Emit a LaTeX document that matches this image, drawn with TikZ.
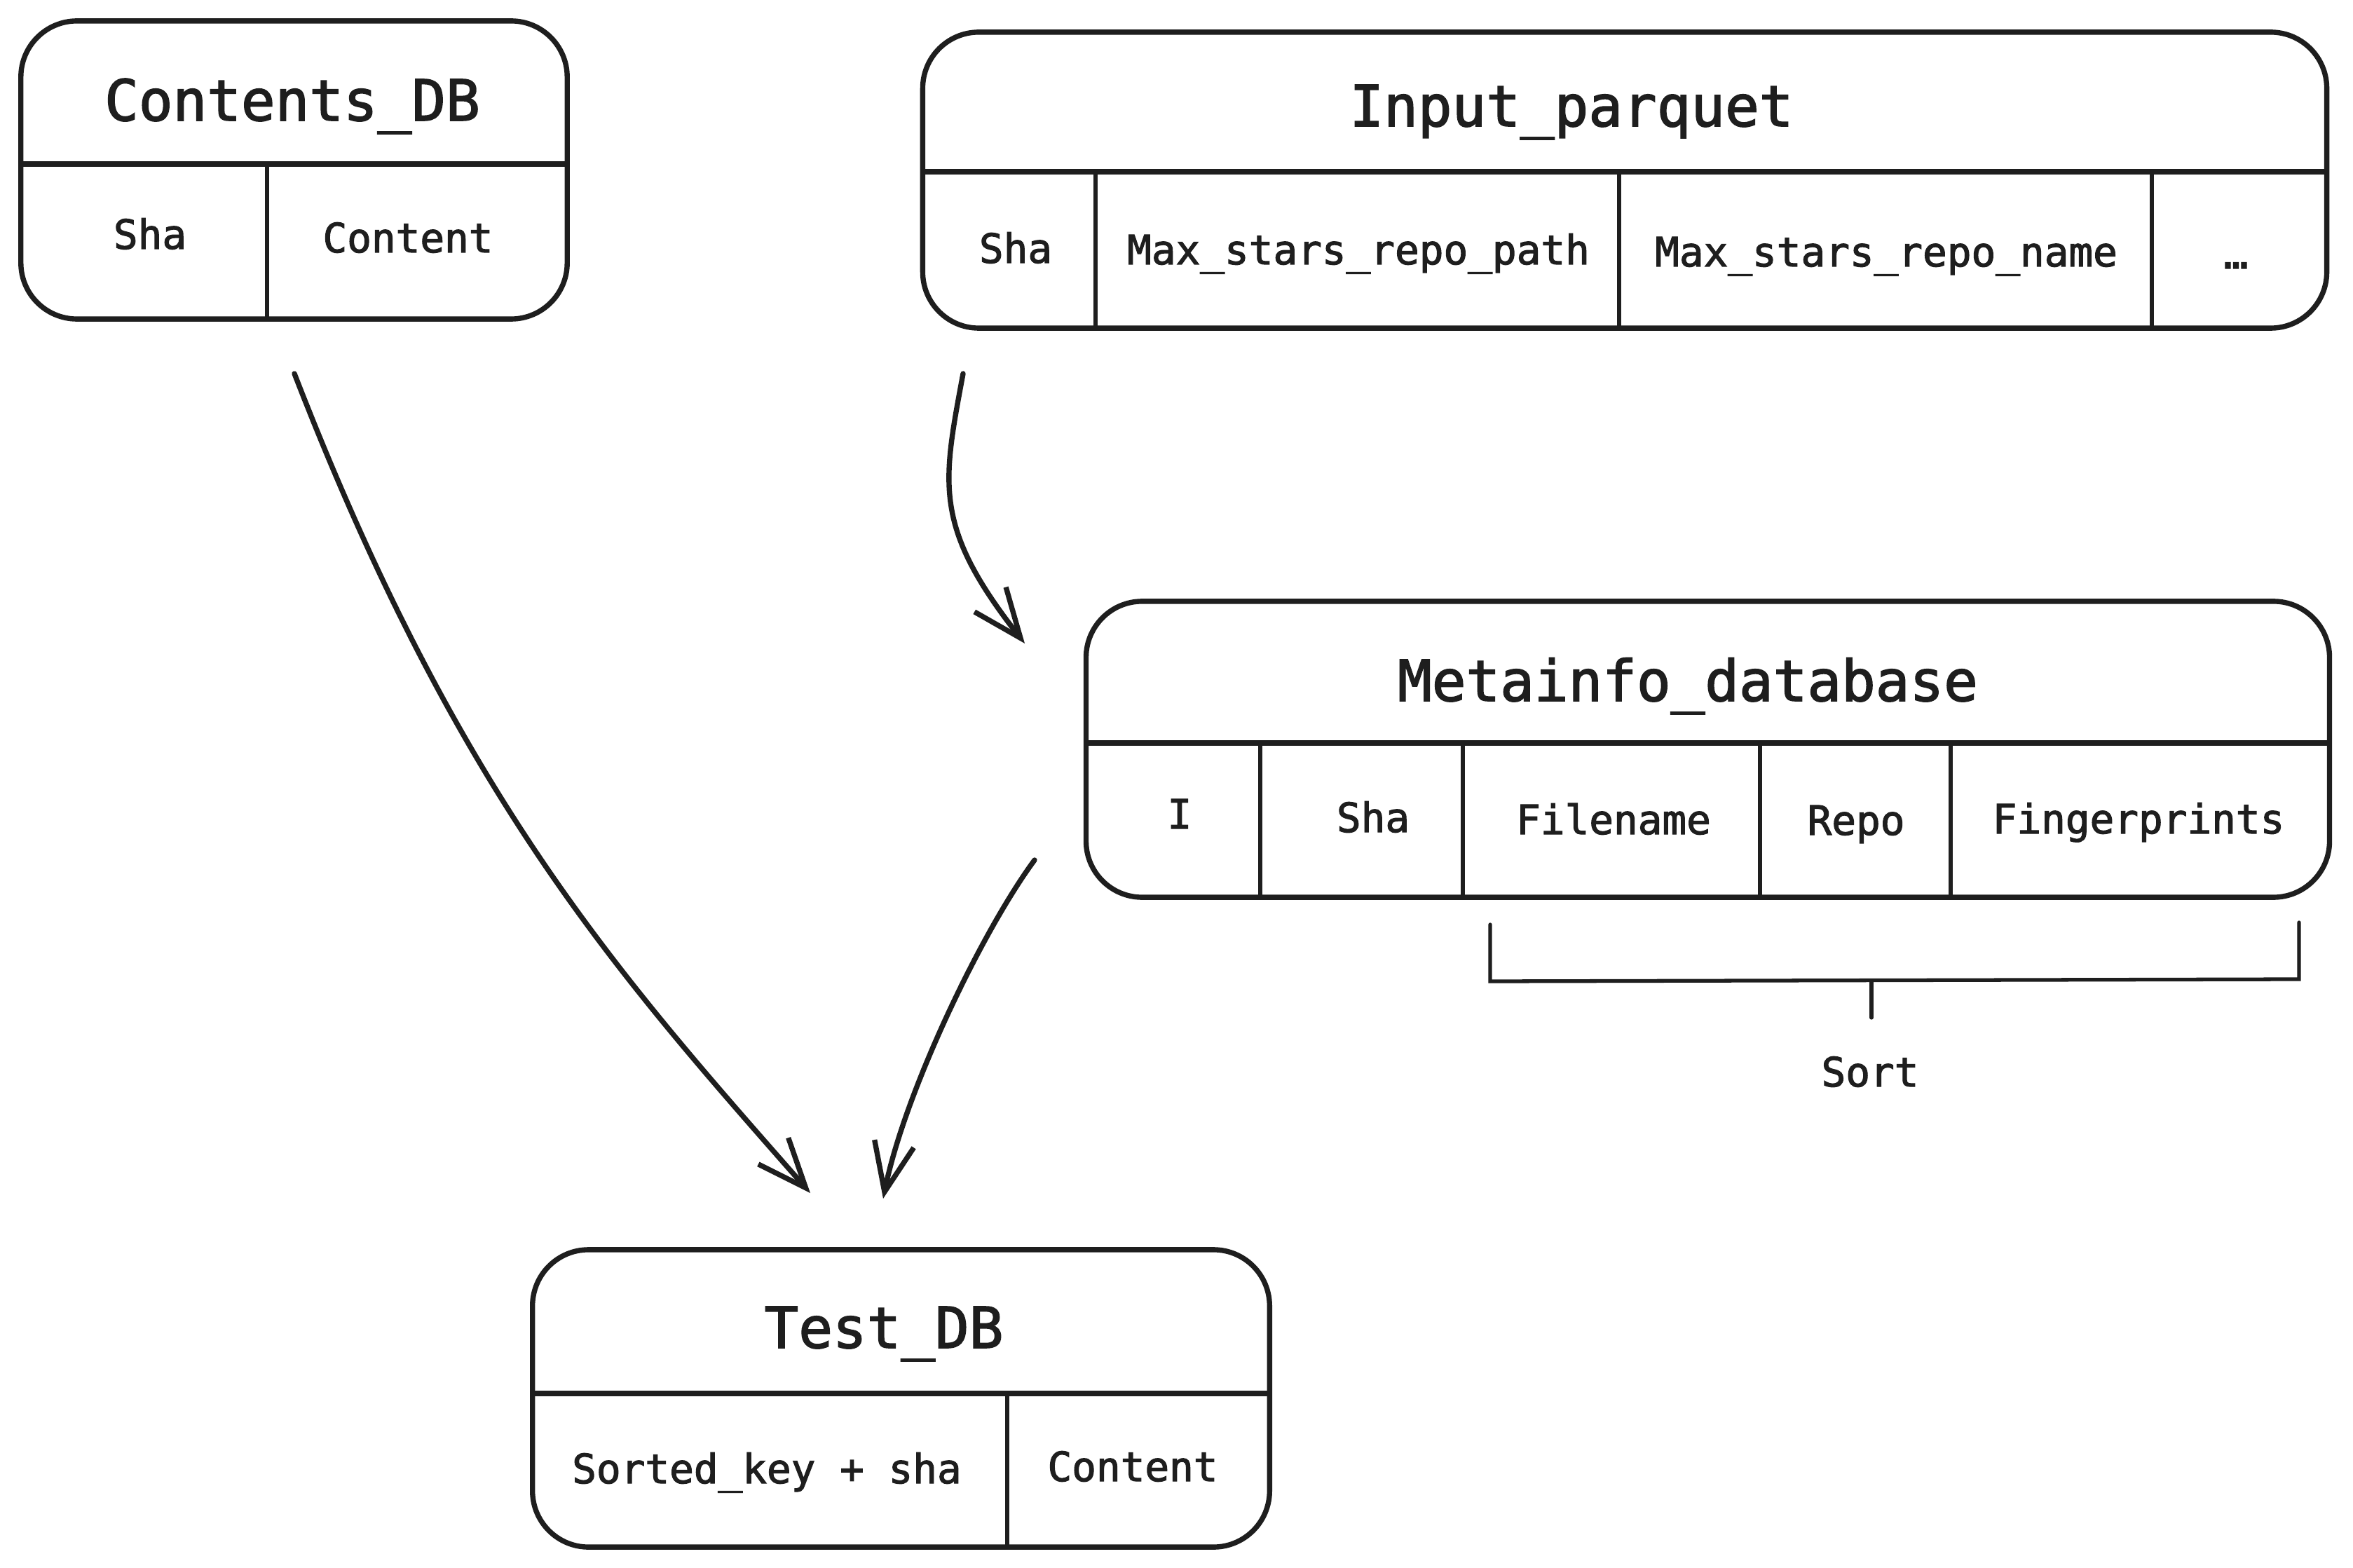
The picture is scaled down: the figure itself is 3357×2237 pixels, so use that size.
\documentclass[tikz,border=0pt]{standalone}
\usepackage{fontspec}
\usetikzlibrary{arrows.meta}
\newfontfamily\codefont[FakeBold=2]{DejaVu Sans Mono}
\definecolor{ink}{HTML}{1E1E1E}

\tikzset{
  tablebox/.style={draw=ink, line width=2.1pt, rounded corners=0.8cm, inner sep=0pt},
  headrule/.style={draw=ink, line width=2.1pt},
  colrule/.style={draw=ink, line width=1.8pt},
  bracket/.style={draw=ink, line width=1.5pt, line cap=round},
  title/.style={anchor=base, text=ink, inner sep=0pt, font=\codefont\fontsize{23}{28}\selectfont},
  field/.style={anchor=base, text=ink, inner sep=0pt, font=\codefont\fontsize{16.4}{20}\selectfont},
  flow/.style={draw=ink, line width=2.1pt, line cap=round, line join=round,
    -{Straight Barb[length=7mm,width=5.7mm]}},
}

\begin{document}
\begin{tikzpicture}[x=0.01cm, y=-0.01cm]
  \fill[white] (0,0) rectangle (3357,2237);
  \useasboundingbox (0,0) rectangle (3357,2237);

  % ---- Contents_DB ----
  \node[tablebox, minimum width=7.79cm, minimum height=4.25cm] (cdb) at (419.5,242.5) {};
  \draw[headrule] (30,234) -- (809,234);
  \draw[colrule] (381,234) -- (381,455);
  \node[title] (cdbT) at (417,172) {Contents\_DB};
  \node[field] (cdbSha) at (214,355) {Sha};
  \node[field] (cdbContent) at (582,360) {Content};

  % ---- Input_parquet ----
  \node[tablebox, minimum width=20.02cm, minimum height=4.22cm] (ipq) at (2318,257) {};
  \draw[headrule] (1317,245) -- (3319,245);
  \foreach \cx in {1563,2310,3070} \draw[colrule] (\cx,245) -- (\cx,468);
  \node[title] (ipqT) at (2242,180) {Input\_parquet};
  \node[field] (ipqSha) at (1449,375) {Sha};
  \node[field] (ipqPath) at (1938,377) {Max\_stars\_repo\_path};
  \node[field] (ipqName) at (2691,380) {Max\_stars\_repo\_name};
  \node[field] (ipqMore) at (3190,383) {…};

  % ---- Metainfo_database ----
  \node[tablebox, minimum width=17.73cm, minimum height=4.22cm] (mdb) at (2436.5,1069) {};
  \draw[headrule] (1550,1060) -- (3323,1060);
  \foreach \cx in {1798,2087,2511,2783} \draw[colrule] (\cx,1060) -- (\cx,1280);
  \node[title] (mdbT) at (2408,1000) {Metainfo\_database};
  \node[field] (mdbI) at (1683,1182) {I};
  \node[field] (mdbSha) at (1959,1187) {Sha};
  \node[field] (mdbFile) at (2302,1190) {Filename};
  \node[field] (mdbRepo) at (2648,1191) {Repo};
  \node[field] (mdbFp) at (3051,1189) {Fingerprints};

  % sort bracket under the last three columns
  \draw[bracket] (2126,1319) -- (2126,1400) -- (3280,1397) -- (3280,1316);
  \coordinate (brkMid) at (2670,1399);
  \coordinate (brkTick) at (2670,1452);
  \draw[bracket] (brkMid) -- (brkTick);
  \node[field] (sortlbl) at (2668,1550) {Sort};

  % ---- Test_DB ----
  \node[tablebox, minimum width=10.51cm, minimum height=4.24cm] (tdb) at (1285.5,1995) {};
  \draw[headrule] (760,1988) -- (1811,1988);
  \draw[colrule] (1437,1988) -- (1437,2207);
  \node[title] (tdbT) at (1261,1923) {Test\_DB};
  \node[field] (tdbKey) at (1094,2116) {Sorted\_key + sha};
  \node[field] (tdbContent) at (1616,2113) {Content};

  % ---- flows ----
  \coordinate (f1s) at (420,533);
  \coordinate (f1e) at (1156,1702);
  \coordinate (f2s) at (1374,533);
  \coordinate (f2e) at (1462,918);
  \coordinate (f3s) at (1476,1227);
  \coordinate (f3e) at (1260,1710);

  \draw[flow] (f1s) .. controls (654,1137) and (879,1387) .. (f1e);
  \draw[flow] (f2s) .. controls (1345,690) and (1330,750) .. (f2e);
  \draw[flow] (f3s) .. controls (1400,1330) and (1290,1560) .. (f3e);
\end{tikzpicture}
\end{document}
